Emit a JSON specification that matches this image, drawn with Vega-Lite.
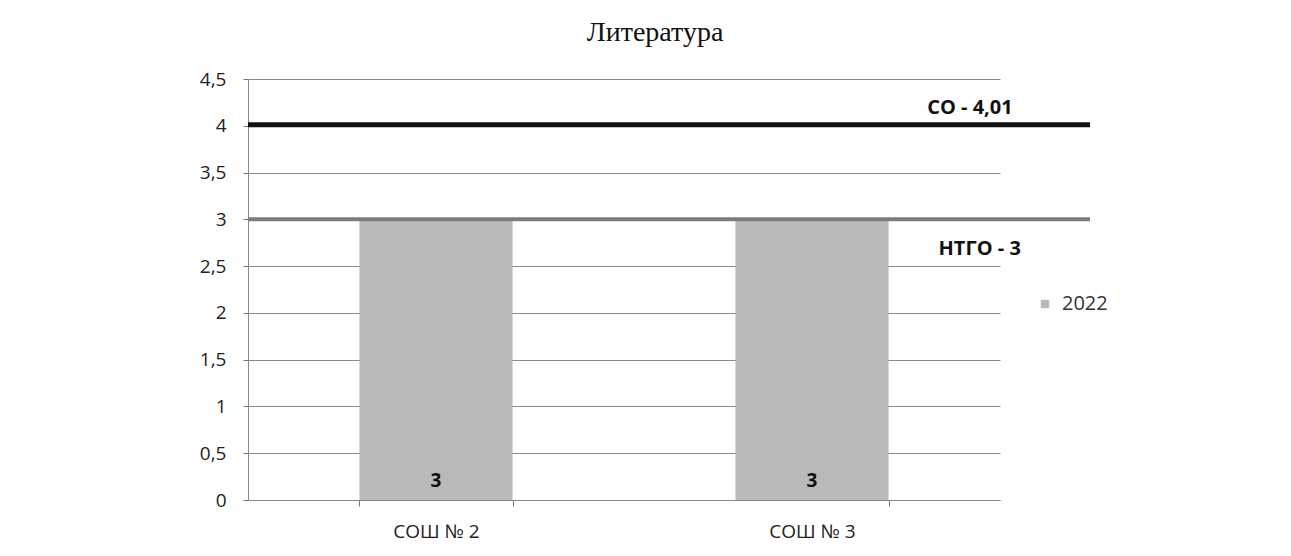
{
  "$schema": "https://vega.github.io/schema/vega-lite/v6.json",
  "width": 752,
  "height": 421,
  "autosize": {"type": "none"},
  "padding": {"left": 248, "top": 79, "right": 291, "bottom": 56},
  "background": "white",
  "view": {"stroke": null},
  "title": {"text": "Литература", "font": "Liberation Serif", "fontSize": 28, "fontWeight": "normal", "color": "#111", "anchor": "middle", "dx": 31, "offset": 1, "baseline": "alphabetic"},
  "datasets": {
    "bars": [
      {"school": "СОШ № 2", "value": 3, "year": "2022"},
      {"school": "СОШ № 3", "value": 3, "year": "2022"}
    ],
    "refs": [
      {"label": "СО - 4,01", "value": 4.01},
      {"label": "НТГО - 3", "value": 3}
    ]
  },
  "layer": [
    {
      "layer": [
        {
          "data": {"name": "bars"},
          "mark": {"type": "bar"},
          "encoding": {
            "x": {"field": "school", "type": "nominal", "sort": null, "scale": {"paddingInner": 0.593, "paddingOuter": 0.2965}, "axis": {"title": null, "labelAngle": 0, "labelFont": "Open Sans", "labelFontSize": 19, "labelColor": "#222", "tickBand": "extent", "tickSize": 6, "tickColor": "#777", "domainColor": "#888", "labelPadding": 16, "grid": false}},
            "y": {"field": "value", "type": "quantitative", "scale": {"domain": [0, 4.5], "nice": false}, "axis": {"title": null, "values": [0, 0.5, 1, 1.5, 2, 2.5, 3, 3.5, 4, 4.5], "labelExpr": "replace(toString(datum.value), '.', ',')", "labelFont": "Open Sans", "labelFontSize": 19, "labelColor": "#222", "tickSize": 5, "tickColor": "#777", "domainColor": "#888", "labelPadding": 17, "grid": true, "gridColor": "#8a8a8a", "gridWidth": 1}},
            "color": {"field": "year", "type": "nominal", "scale": {"range": ["#b9b9b9"]}, "legend": {"title": null, "orient": "none", "legendX": 787, "legendY": 215, "padding": 0, "symbolType": "square", "symbolSize": 70, "labelFont": "Open Sans", "labelFontSize": 20, "labelColor": "#333", "labelOffset": 7}}
          }
        },
        {
          "data": {"name": "bars"},
          "mark": {"type": "text", "font": "Open Sans", "fontWeight": "bold", "fontSize": 19, "baseline": "bottom", "dy": -9, "color": "#111"},
          "encoding": {
            "x": {"field": "school", "type": "nominal", "sort": null},
            "y": {"datum": 0},
            "text": {"field": "value", "type": "quantitative"}
          }
        }
      ]
    },
    {
      "layer": [
        {
          "data": {"name": "refs"},
          "mark": {"type": "rule"},
          "encoding": {
            "x": {"datum": 0, "type": "quantitative", "scale": {"domain": [0, 1], "nice": false, "zero": false}, "axis": null},
            "x2": {"datum": 1.1197},
            "y": {"field": "value", "type": "quantitative"},
            "color": {"condition": {"test": "datum.value > 3.5", "value": "#111111"}, "value": "#7d7d7d"},
            "strokeWidth": {"condition": {"test": "datum.value > 3.5", "value": 5}, "value": 4}
          }
        },
        {
          "data": {"name": "refs"},
          "transform": [{"filter": "datum.value > 3.5"}],
          "mark": {"type": "text", "font": "Open Sans", "fontWeight": "bold", "fontSize": 20, "dy": -17, "color": "#111"},
          "encoding": {
            "x": {"datum": 0.96, "type": "quantitative"},
            "y": {"field": "value", "type": "quantitative"},
            "text": {"field": "label"}
          }
        },
        {
          "data": {"name": "refs"},
          "transform": [{"filter": "datum.value < 3.5"}],
          "mark": {"type": "text", "font": "Open Sans", "fontWeight": "bold", "fontSize": 20, "dy": 30, "color": "#111"},
          "encoding": {
            "x": {"datum": 0.973, "type": "quantitative"},
            "y": {"field": "value", "type": "quantitative"},
            "text": {"field": "label"}
          }
        }
      ]
    }
  ],
  "resolve": {"scale": {"x": "independent"}}
}
